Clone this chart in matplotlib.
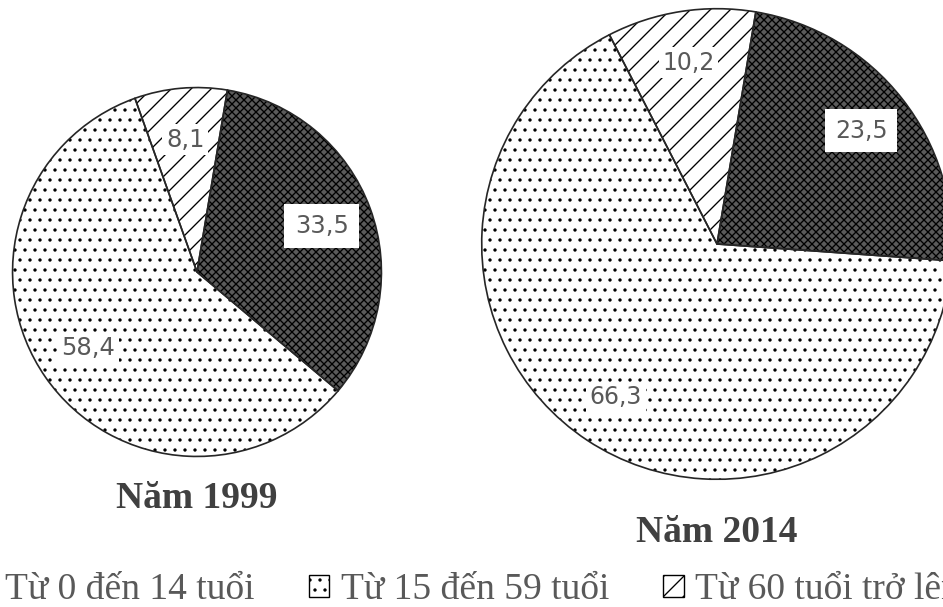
import matplotlib
matplotlib.use("Agg")
import matplotlib.pyplot as plt
from matplotlib.patches import Patch

categories = ["Từ 0 đến 14 tuổi", "Từ 15 đến 59 tuổi", "Từ 60 tuổi trở lên"]
years = ["Năm 1999", "Năm 2014"]
values_1999 = [33.5, 58.4, 8.1]
values_2014 = [23.5, 66.3, 10.2]

face_colors = ["#5a5a5a", "white", "white"]
hatch_colors = ["black", "black", "black"]
hatches = ["xxxxx", "..", "//"]

DPI = 120
S = 100 / DPI  # scale so sizes stay the same in pixels
plt.rcParams["hatch.linewidth"] = 0.8

W, H = 943, 607
fig = plt.figure(figsize=(W / DPI, H / DPI), dpi=DPI)
fig.patch.set_facecolor("white")


def fmt(p):
    return f"{p:.1f}".replace(".", ",")


def draw_pie(values, cx, cy, r, pctdist, title, ty, label_size):
    ax = fig.add_axes([(cx - r) / W, 1 - (cy + r) / H, 2 * r / W, 2 * r / H])
    wedges, _, autotexts = ax.pie(
        values, startangle=80.5, counterclock=False, autopct=fmt,
        pctdistance=pctdist, colors=face_colors,
        wedgeprops=dict(linewidth=0),
        textprops=dict(fontsize=label_size * S, color="#595959", family="DejaVu Sans"),
    )
    for w, hc, h in zip(wedges, hatch_colors, hatches):
        w.set_edgecolor(hc)
        w.set_hatch(h)
    ax.pie(values, startangle=80.5, counterclock=False,
           colors=["none"] * 3,
           wedgeprops=dict(linewidth=1.2 * S, edgecolor="#262626", fill=False))
    for i, t in enumerate(autotexts):
        pad = 0.42 if i == 0 else 0.15
        t.set_bbox(dict(boxstyle=f"square,pad={pad}", facecolor="white", edgecolor="none"))
        t.set_zorder(10)
    ax.set_xlim(-1.003, 1.003)
    ax.set_ylim(-1.003, 1.003)
    ax.set_aspect("auto")
    fig.text(cx / W, 1 - ty / H, title, ha="center", va="center",
             fontsize=27 * S, fontweight="bold", family="Liberation Serif", color="#404040")
    return wedges


draw_pie(values_1999, 197, 272, 185, 0.72, years[0], 499, 17.5)
draw_pie(values_2014, 717, 244, 236, 0.78, years[1], 532, 17)

handles = [Patch(facecolor=fc, edgecolor=hc, hatch=h, linewidth=1.0 * S)
           for fc, hc, h in zip(face_colors, hatch_colors, hatches)]
fig.legend(handles, categories, ncol=3, loc="center left",
           bbox_to_anchor=(-27 / W, 1 - 590 / H), frameon=False,
           prop=dict(family="Liberation Serif", size=27 * S),
           labelcolor="#595959", handlelength=0.55, handleheight=0.55,
           handletextpad=0.3, columnspacing=1.45, borderpad=0, borderaxespad=0)

fig.savefig("out.png", dpi=DPI, facecolor="white")
